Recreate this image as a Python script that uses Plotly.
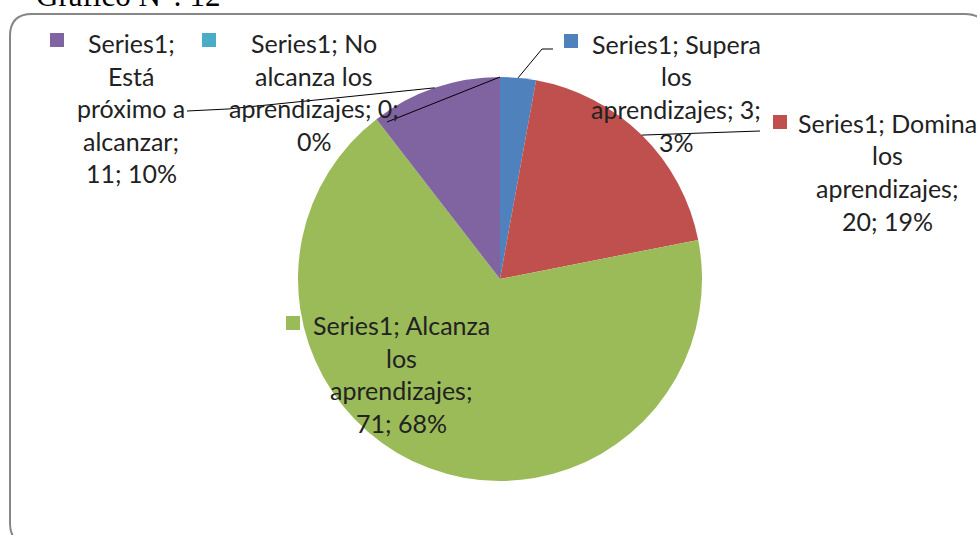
import numpy as np
import plotly.graph_objects as go

W, H = 977, 535

# data (clockwise from 12 o'clock)
categories = ["Supera los aprendizajes", "Domina los aprendizajes",
              "Alcanza los aprendizajes", "Está próximo a alcanzar",
              "No alcanza los aprendizajes"]
values = [3, 20, 71, 11, 0]
colors = ["#4F81BD", "#C0504D", "#9BBB59", "#8064A2", "#4BACC6"]
series_name = "Series1"

# label text broken the way Excel wraps it
label_lines = [
    ["Series1; Supera", "los", "aprendizajes; 3;", "3%"],
    ["Series1; Domina", "los", "aprendizajes;", "20; 19%"],
    ["Series1; Alcanza", "los", "aprendizajes;", "71; 68%"],
    ["Series1;", "Está", "próximo a", "alcanzar;", "11; 10%"],
    ["Series1; No", "alcanza los", "aprendizajes; 0;", "0%"],
]

# pie geometry in pixels
CX, CY, R = 500, 279, 202

# label placement (px): text centre x, first baseline y, key square centre
label_pos = [
    dict(x=676, y=51, kx=571, ky=41),
    dict(x=887, y=130, kx=780, ky=122),
    dict(x=401, y=332, kx=293, ky=323),
    dict(x=131, y=50, kx=57, ky=40),
    dict(x=314, y=50, kx=209, ky=40),
]
LINE_STEP = 32.5


def px(x):
    return x / W


def py(y):
    return 1 - y / H


fig = go.Figure(go.Pie(
    labels=categories,
    values=values,
    sort=False,
    direction="clockwise",
    rotation=0,
    marker=dict(colors=colors, line=dict(width=0)),
    textinfo="none",
    hoverinfo="label+value+percent",
    domain=dict(x=[px(CX - R), px(CX + R)], y=[py(CY + R), py(CY - R)]),
))

# text labels, one annotation per line
for lines, pos, col in zip(label_lines, label_pos, colors):
    for i, t in enumerate(lines):
        fig.add_annotation(
            x=px(pos["x"]), y=py(pos["y"] + i * LINE_STEP - 7),
            xref="paper", yref="paper", text=t, showarrow=False,
            xanchor="center", yanchor="middle",
            font=dict(family="Lato", size=25, color="#222222"),
        )
    fig.add_shape(
        type="rect", xref="paper", yref="paper",
        x0=px(pos["kx"] - 7), x1=px(pos["kx"] + 7),
        y0=py(pos["ky"] + 7), y1=py(pos["ky"] - 7),
        fillcolor=col, line=dict(width=0),
    )

# leader lines start at the middle of each slice's arc
total = sum(values)
cum = np.cumsum([0] + values)
mid = (cum[:-1] + cum[1:]) / 2 / total * 2 * np.pi
edge = [(CX + R * np.sin(a), CY - R * np.cos(a)) for a in mid]

leaders = {
    0: [(553, 49), (542, 49)],
    1: [(760, 131)],
    3: [(187, 111), (228, 109)],
    4: [(387, 122)],
}
for idx, pts in leaders.items():
    path_pts = [edge[idx]] + pts[::-1]
    d = "M " + " L ".join(f"{px(x):.5f},{py(y):.5f}" for x, y in path_pts)
    fig.add_shape(type="path", xref="paper", yref="paper", path=d,
                  line=dict(color="#000000", width=1))

# rounded chart border
x0, y0, x1, y1, r = 10, 14, 987, 545, 22
border = (
    f"M {px(x0 + r)},{py(y0)} L {px(x1 - r)},{py(y0)} "
    f"Q {px(x1)},{py(y0)} {px(x1)},{py(y0 + r)} "
    f"L {px(x1)},{py(y1 - r)} Q {px(x1)},{py(y1)} {px(x1 - r)},{py(y1)} "
    f"L {px(x0 + r)},{py(y1)} Q {px(x0)},{py(y1)} {px(x0)},{py(y1 - r)} "
    f"L {px(x0)},{py(y0 + r)} Q {px(x0)},{py(y0)} {px(x0 + r)},{py(y0)} Z"
)
fig.add_shape(type="path", xref="paper", yref="paper", path=border,
              line=dict(color="#868686", width=2))

# caption above the chart, cut off by the page edge
fig.add_annotation(
    x=px(34), y=py(-5), xref="paper", yref="paper",
    text="Gráfico N°: 12", showarrow=False,
    xanchor="left", yanchor="middle",
    font=dict(family="Liberation Serif", size=31, color="#000000"),
)

fig.update_layout(
    width=W, height=H,
    margin=dict(l=0, r=0, t=0, b=0),
    showlegend=False,
    paper_bgcolor="white",
    plot_bgcolor="white",
)

# drop the page's default body margin so the figure sits at the window corner
fig.write_html("out.html", config={"displayModeBar": False},
               post_script="document.body.style.margin='0px';")
